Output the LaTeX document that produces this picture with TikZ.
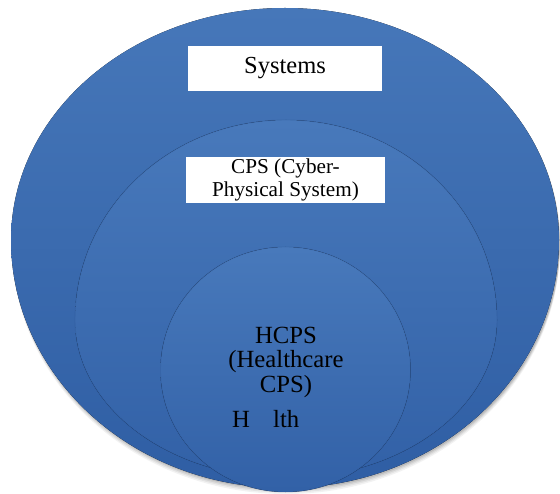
\documentclass[tikz,border=0pt]{standalone}
\usepackage{fontspec}
\setmainfont{Liberation Serif}
\newfontfamily\labelfont{Liberation Serif}

% egg-shaped outline: centre (#1,#2), half-width #3, upper height #4, lower height #5
\newcommand\eggpath[5]{(#1-#3,#2) arc[start angle=180,end angle=360,x radius=#3,y radius=#4]
  arc[start angle=0,end angle=180,x radius=#3,y radius=#5] -- cycle}

\definecolor{blueTop}{HTML}{4677B9}
\definecolor{blueBot}{HTML}{2F5EA4}
\definecolor{blueTopL}{HTML}{4879BB}
\definecolor{blueBotL}{HTML}{3261A7}
\definecolor{blueEdge}{HTML}{28508F}

\tikzset{
  rim/.style={draw=blueEdge, draw opacity=0.25, line width=0.9pt},
  labelbox/.style={fill=white, inner sep=0pt, align=center},
  txt/.style={anchor=base, align=center, inner sep=0pt},
}

\begin{document}
\begin{tikzpicture}[x=1pt,y=-1pt]
\useasboundingbox (0,0) rectangle (560,494);
\fill[white] (0,0) rectangle (560,494);

% soft shadow under the outer set
\foreach \d/\o in {6/0.05,4.5/0.06,3/0.08,1.5/0.10}
  \fill[black,opacity=\o] \eggpath{286}{240+\d}{274}{232}{248};

% Systems
\fill[top color=blueTop, bottom color=blueBot] \eggpath{285}{240}{274}{232}{248};
% CPS
\fill[top color=blueTopL, bottom color=blueBotL] \eggpath{286}{320}{211}{200}{158};
\draw[rim] \eggpath{286}{320}{211}{200}{158};
% HCPS
\fill[top color=blueTopL, bottom color=blueBotL] \eggpath{285.5}{370}{125}{123}{122};
\draw[rim] \eggpath{285.5}{370}{125}{123}{122};

% labelled boxes
\node[labelbox, minimum width=194pt, minimum height=45pt,
      font=\labelfont\fontsize{24.5}{25}\selectfont] (sys) at (285,68.5) {Systems};
\node[labelbox, minimum width=199pt, minimum height=46pt,
      font=\labelfont\fontsize{21.2}{23.5}\selectfont] (cps) at (285.5,180) {CPS (Cyber-\\Physical System)};

% texts inside the HCPS circle (a multi-line node's base anchor sits on its last line)
\node[txt, font=\labelfont\fontsize{24.7}{25}\selectfont] (hcps) at (286,393) {HCPS\\(Healthcare\\CPS)};
\node[txt, anchor=base west, font=\labelfont\fontsize{24.7}{25}\selectfont] (hH) at (232,428) {H};
\node[txt, anchor=base west, font=\labelfont\fontsize{24.7}{25}\selectfont] (hlth) at (273,428) {lth};
\end{tikzpicture}
\end{document}
